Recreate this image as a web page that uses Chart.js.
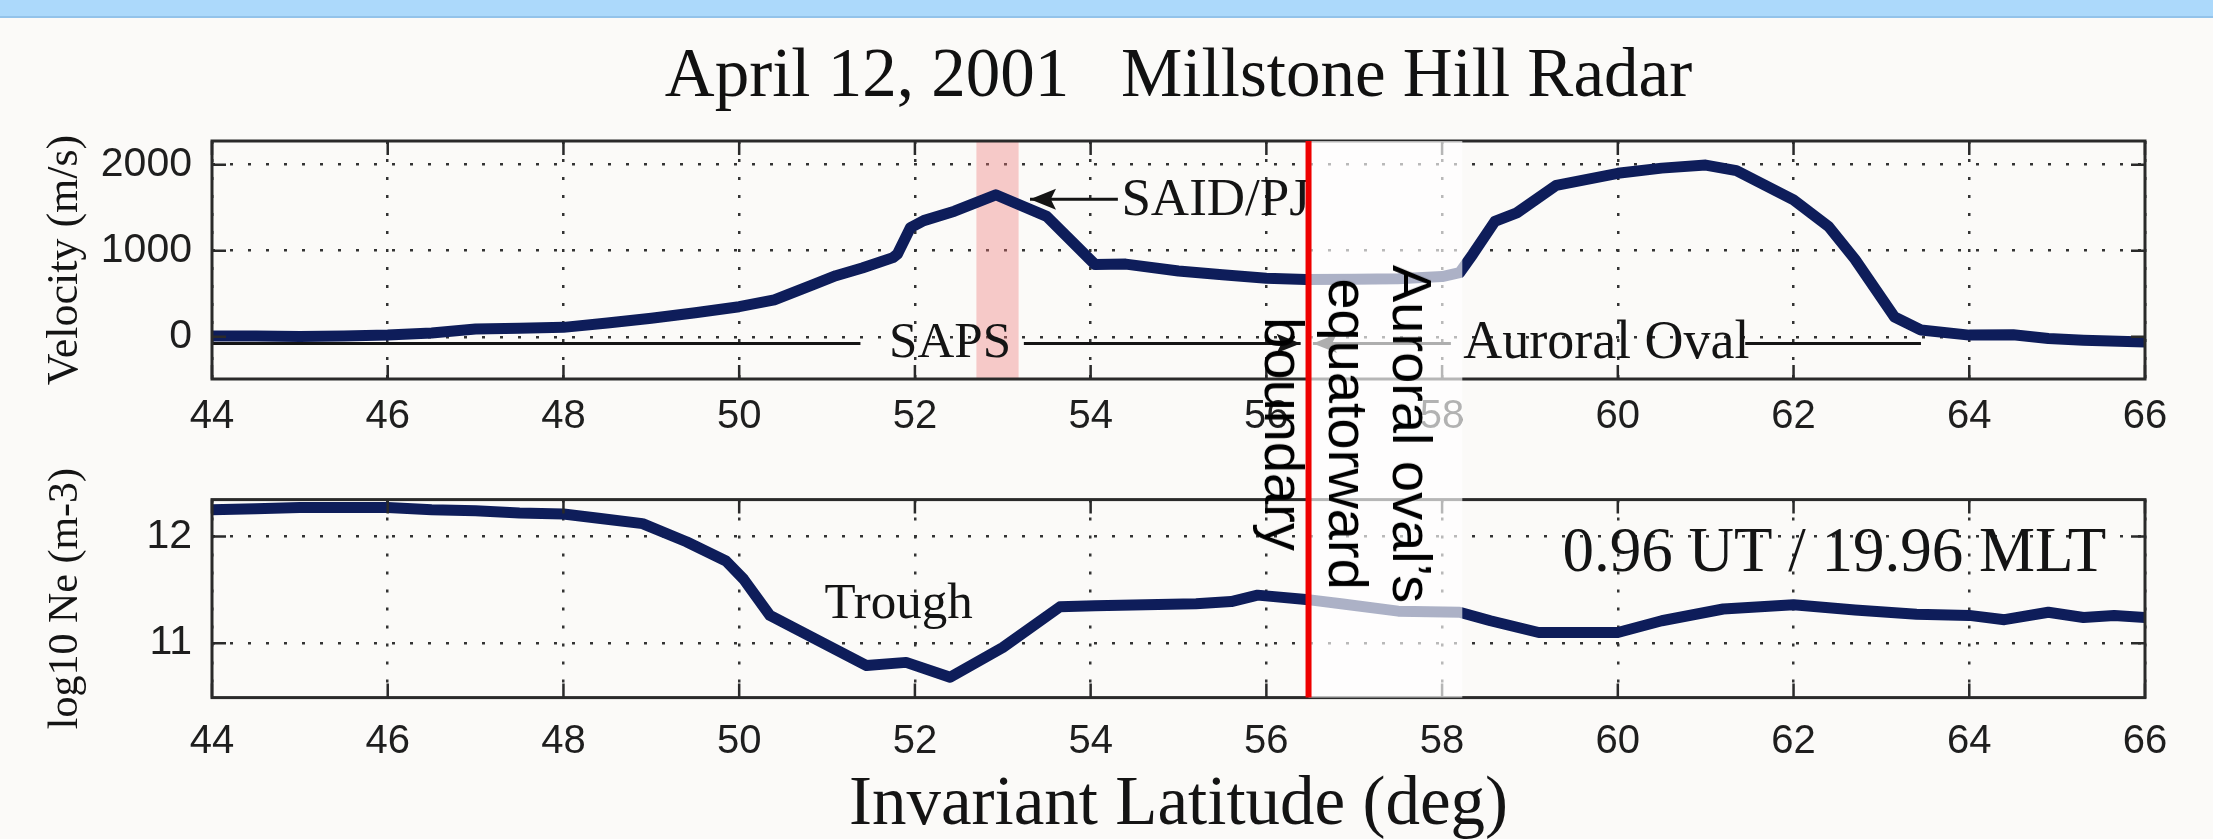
<!DOCTYPE html>
<html><head><meta charset="utf-8">
<script src="https://cdn.jsdelivr.net/npm/chart.js@4"></script>
<style>
html,body{margin:0;padding:0;background:#fbfaf8;width:2213px;height:839px;overflow:hidden;}
#band{position:absolute;left:0;top:0;width:2213px;height:16px;background:#acd9fb;border-bottom:2px solid #93c3ea;}
#c1{position:absolute;left:0;top:0;}
#c2{position:absolute;left:0;top:455px;}
#note{position:absolute;font-family:"Liberation Sans",Arial,sans-serif;font-size:56px;line-height:64px;text-align:center;white-space:pre;color:#000;transform:translate(-50%,-50%) rotate(90deg);left:1348px;top:434px;}
</style></head><body>
<div id="band"></div>
<canvas id="c1" width="2213" height="455"></canvas>
<canvas id="c2" width="2213" height="384"></canvas>
<div id="note">Auroral oval’s
equatorward
boundary</div>
<script>
// ---- data ----
const titleText = 'April 12, 2001   Millstone Hill Radar';
const latTicks = [44,46,48,50,52,54,56,58,60,62,64,66];
const velTicks = [0,1000,2000];
const neTicks = [11,12];
const latV = [44.0,44.5,45.0,45.5,46.0,46.5,47.0,47.5,48.0,48.5,49.0,49.5,50.0,50.4,50.85,51.1,51.4,51.75,51.8,51.95,52.1,52.45,52.92,53.5,54.05,54.4,55.0,55.5,56.0,56.45,57.0,57.5,58.0,58.2,58.35,58.6,58.85,59.3,60.0,60.5,61.0,61.35,62.0,62.4,62.7,63.15,63.45,64.0,64.5,64.9,65.3,66.0];
const velocity = [10,10,5,10,20,45,90,100,110,160,215,280,350,430,610,710,800,920,960,1270,1350,1460,1650,1400,840,845,765,720,680,665,670,675,700,745,960,1340,1440,1760,1900,1960,1995,1930,1590,1280,900,230,80,20,25,-20,-40,-60];
const latN = [44.0,44.5,45.0,45.5,46.0,46.5,47.0,47.5,48.0,48.4,48.9,49.4,49.85,50.05,50.35,50.7,51.45,51.9,52.4,53.0,53.65,54.05,55.2,55.6,55.9,56.45,56.85,57.5,58.2,58.55,59.1,60.0,60.5,61.2,62.0,62.7,63.4,64.0,64.4,64.9,65.3,65.65,66.0];
const logNe = [12.25,12.26,12.27,12.27,12.27,12.25,12.24,12.22,12.21,12.17,12.12,11.95,11.77,11.6,11.26,11.11,10.79,10.82,10.68,10.96,11.34,11.35,11.37,11.39,11.45,11.41,11.37,11.3,11.29,11.21,11.1,11.1,11.21,11.32,11.36,11.31,11.27,11.26,11.22,11.29,11.24,11.26,11.24];
const boundaryLat = 56.48;
const fadeEndLat = 58.23;
const saidBand = [52.70, 53.18];

// ---- styles ----
const SANS = '"Liberation Sans", Arial, sans-serif';
const SERIF = '"Liberation Serif", "DejaVu Serif", serif';
const NAVY = '#0e1d5a';
const INK = '#141414';
const TICK = 14;

function boxAndTicks(chart){
  const {ctx, chartArea:a, scales:{x,y}} = chart;
  ctx.save();
  ctx.setLineDash([]);
  ctx.strokeStyle = '#2a2a2a';
  ctx.lineWidth = 2.5;
  ctx.beginPath();
  x.ticks.forEach(t=>{const p=x.getPixelForValue(t.value);ctx.moveTo(p,a.top);ctx.lineTo(p,a.top+TICK);ctx.moveTo(p,a.bottom);ctx.lineTo(p,a.bottom-TICK);});
  y.ticks.forEach(t=>{const p=y.getPixelForValue(t.value);ctx.moveTo(a.left,p);ctx.lineTo(a.left+TICK,p);ctx.moveTo(a.right,p);ctx.lineTo(a.right-TICK,p);});
  ctx.stroke();
  ctx.lineWidth = 3;
  ctx.strokeRect(a.left,a.top,a.right-a.left,a.bottom-a.top);
  ctx.restore();
}
function arrowLine(ctx,x1,y1,x2,y2,head){
  ctx.beginPath();ctx.moveTo(x1,y1);ctx.lineTo(x2,y2);ctx.stroke();
  const d = Math.sign(x2-x1);
  ctx.beginPath();ctx.moveTo(x2,y2);ctx.lineTo(x2-d*head,y2-head*0.4);ctx.lineTo(x2-d*head*0.8,y2);ctx.lineTo(x2-d*head,y2+head*0.4);ctx.closePath();ctx.fill();
}
function fadeAndRed(chart, y0, y1){
  const {ctx, scales:{x}} = chart;
  const xb = x.getPixelForValue(boundaryLat), xe = x.getPixelForValue(fadeEndLat);
  ctx.save();
  ctx.fillStyle = 'rgba(255,255,255,0.66)';
  ctx.fillRect(xb, y0, xe-xb, y1-y0);
  ctx.strokeStyle = '#ee0000';
  ctx.lineWidth = 6;
  ctx.beginPath();ctx.moveTo(xb,y0);ctx.lineTo(xb,y1);ctx.stroke();
  ctx.restore();
}

const topPlugin = {
  id:'topDecor',
  beforeDatasetsDraw(chart){
    const {ctx, chartArea:a, scales:{x}} = chart;
    const x0 = x.getPixelForValue(saidBand[0]), x1 = x.getPixelForValue(saidBand[1]);
    ctx.save();ctx.fillStyle='rgba(238,120,120,0.38)';ctx.fillRect(x0,a.top,x1-x0,a.bottom-a.top);ctx.restore();
  },
  afterDatasetsDraw(chart){
    const {ctx, chartArea:a, scales:{x,y}} = chart;
    ctx.save();
    ctx.strokeStyle = INK; ctx.fillStyle = INK; ctx.lineWidth = 3; ctx.setLineDash([]);
    ctx.textBaseline = 'middle';
    // SAID/PJ
    const ys = y.getPixelForValue(1598);
    arrowLine(ctx, x.getPixelForValue(54.31), ys, x.getPixelForValue(53.31), ys, 26);
    ctx.textAlign = 'left';
    ctx.font = '53px ' + SERIF;
    ctx.fillText('SAID/PJ', x.getPixelForValue(54.35), ys+2);
    // SAPS
    const yl = y.getPixelForValue(-77);
    ctx.beginPath();ctx.moveTo(x.getPixelForValue(44),yl);ctx.lineTo(x.getPixelForValue(51.38),yl);ctx.stroke();
    ctx.textAlign = 'center';
    ctx.font = '51px ' + SERIF;
    ctx.fillText('SAPS', x.getPixelForValue(52.4), yl);
    arrowLine(ctx, x.getPixelForValue(53.24), yl, x.getPixelForValue(56.39), yl, 24);
    // Auroral Oval
    arrowLine(ctx, x.getPixelForValue(58.1), yl, x.getPixelForValue(56.53), yl, 24);
    ctx.textAlign = 'left';
    ctx.font = '54px ' + SERIF;
    ctx.fillText('Auroral Oval', x.getPixelForValue(58.24), yl);
    ctx.beginPath();ctx.moveTo(x.getPixelForValue(61.45),yl);ctx.lineTo(x.getPixelForValue(63.45),yl);ctx.stroke();
    ctx.restore();
    boxAndTicks(chart);
    fadeAndRed(chart, a.top, chart.height);
  }
};
const bottomPlugin = {
  id:'bottomDecor',
  afterDatasetsDraw(chart){
    const {ctx, chartArea:a, scales:{x,y}} = chart;
    ctx.save();
    ctx.fillStyle = INK; ctx.textBaseline = 'middle'; ctx.textAlign = 'left';
    ctx.font = '51px ' + SERIF;
    ctx.fillText('Trough', x.getPixelForValue(50.97), y.getPixelForValue(11.36));
    ctx.font = '63px ' + SERIF;
    ctx.fillText('0.96 UT / 19.96 MLT', x.getPixelForValue(59.37), y.getPixelForValue(11.83));
    ctx.restore();
    boxAndTicks(chart);
    fadeAndRed(chart, 0, a.bottom);
  }
};

function xScale(padding, title){
  return {type:'linear', min:44, max:66,
    afterBuildTicks: s=>{s.ticks = latTicks.map(v=>({value:v}));},
    ticks:{font:{family:SANS,size:40,lineHeight:1.2}, color:'#1e1e1e', padding:padding, maxRotation:0, autoSkip:false, callback: v=>String(v)},
    grid:{color:'#333', lineWidth:2.5, drawTicks:false},
    border:{display:false, dash:[3,15]},
    title: title || {display:false}};
}
function yScale(min,max,ticks,title,tsize,tpad){
  return {min:min, max:max,
    afterBuildTicks: s=>{s.ticks = ticks.map(v=>({value:v}));},
    afterFit: s=>{s.width = 212;},
    ticks:{font:{family:SANS,size:41,lineHeight:1.2}, color:'#1e1e1e', padding:20, callback: v=>String(v)},
    grid:{color:'#333', lineWidth:2.5, drawTicks:false},
    border:{display:false, dash:[3,15]},
    title:{display:true, text:title, color:INK, font:{family:SERIF,size:tsize,lineHeight:1.2}, padding:{top:tpad,bottom:0}}};
}
const lineStyle = {borderColor:NAVY, borderWidth:11, pointRadius:0, tension:0, borderJoinStyle:'round', borderCapStyle:'round', fill:false};

const chart1 = new Chart(document.getElementById('c1'), {
  type:'line',
  data:{datasets:[Object.assign({data: latV.map((v,i)=>({x:v, y:velocity[i]}))}, lineStyle)]},
  options:{responsive:false, animation:false, devicePixelRatio:1,
    layout:{padding:{left:0,right:68,top:0,bottom:0}},
    plugins:{legend:{display:false}, tooltip:{enabled:false},
      title:{display:true, text:titleText, fullSize:false, color:'#111', font:{family:SERIF,size:69,weight:'normal',lineHeight:1.2}, padding:{top:36.6,bottom:21.6}}},
    scales:{x:xScale(14), y:yScale(-490,2275,velTicks,'Velocity (m/s)',44,38.6)}},
  plugins:[topPlugin]
});
const chart2 = new Chart(document.getElementById('c2'), {
  type:'line',
  data:{datasets:[Object.assign({data: latN.map((v,i)=>({x:v, y:logNe[i]}))}, lineStyle)]},
  options:{responsive:false, animation:false, devicePixelRatio:1,
    layout:{padding:{left:0,right:68,top:3,bottom:0}},
    plugins:{legend:{display:false}, tooltip:{enabled:false}},
    scales:{x:xScale(20,{display:true, text:'Invariant Latitude (deg)', color:INK, font:{family:SERIF,size:69,lineHeight:0.6}, padding:{top:0,bottom:12}}),
            y:yScale(10.49,12.345,neTicks,'log10 Ne (m-3)',42,40.8)}},
  plugins:[bottomPlugin]
});
document.getElementById('note').style.left = (chart1.scales.x.getPixelForValue(boundaryLat) + 39) + 'px';
</script>
</body></html>
